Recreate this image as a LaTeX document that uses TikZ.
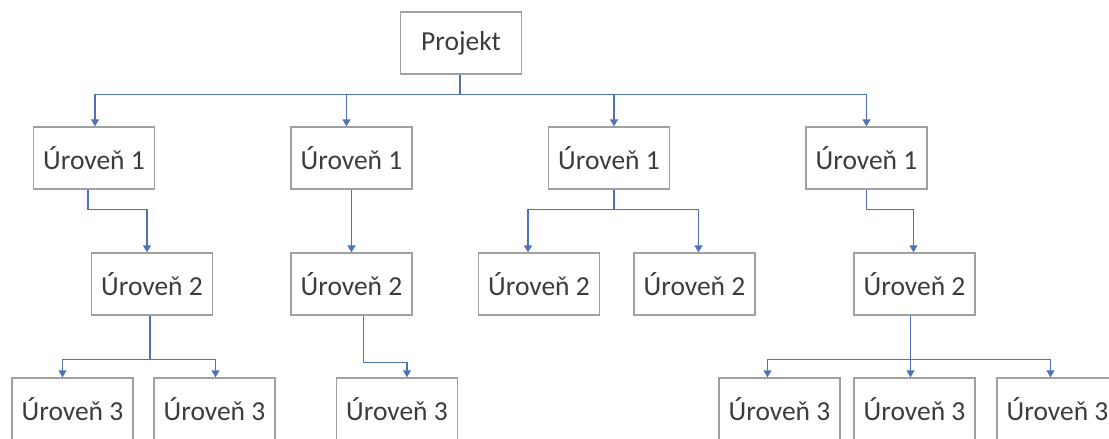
\documentclass[tikz,border=0pt]{standalone}
\usepackage{fontspec}
\setmainfont{Carlito}
\usetikzlibrary{arrows.meta}
\definecolor{boxgray}{HTML}{A0A0A0}
\definecolor{linkblue}{HTML}{4F72B4}
\definecolor{txtgray}{HTML}{3C3C3C}
\begin{document}
\begin{tikzpicture}[x=1pt, y=-1pt,
    box/.style={draw=boxgray,line width=1.3pt,minimum width=121pt,minimum height=62pt,inner sep=0pt,text=txtgray,font=\fontsize{27.5}{33}\selectfont},
    link/.style={draw=linkblue,line width=1.3pt,-{Triangle[width=8pt,length=7pt]}}]
          \clip (0,0) rectangle (1109,439);
          \node [box] (proj) at (461,43) {Projekt};
          \node [box] (l1a) at (94,158) {Úroveň 1};
          \node [box] (l1b) at (351.5,158) {Úroveň 1};
          \node [box] (l1c) at (609,158) {Úroveň 1};
          \node [box] (l1d) at (866.5,158) {Úroveň 1};
          \node [box] (l2a) at (152,284) {Úroveň 2};
          \node [box] (l2b) at (351.5,284) {Úroveň 2};
          \node [box] (l2c) at (539,284) {Úroveň 2};
          \node [box] (l2d) at (694.5,284) {Úroveň 2};
          \node [box] (l2e) at (914.5,284) {Úroveň 2};
          \node [box] (l3a) at (72.5,409) {Úroveň 3};
          \node [box] (l3b) at (214.5,409) {Úroveň 3};
          \node [box] (l3c) at (397,409) {Úroveň 3};
          \node [box] (l3d) at (779.5,409) {Úroveň 3};
          \node [box] (l3e) at (914.5,409) {Úroveň 3};
          \node [box] (l3f) at (1057.5,409) {Úroveň 3};
          \draw [link] ([xshift=-1pt]proj.south) -- ++(0,20) -| ([xshift=1pt]l1a.north);
          \draw [link] ([xshift=-1pt]proj.south) -- ++(0,20) -| ([xshift=-5pt]l1b.north);
          \draw [link] ([xshift=-1pt]proj.south) -- ++(0,20) -| ([xshift=5pt]l1c.north);
          \draw [link] ([xshift=-1pt]proj.south) -- ++(0,20) -| ([xshift=0pt]l1d.north);
          \draw [link] ([xshift=-6pt]l1a.south) -- ++(0,20) -| ([xshift=-5pt]l2a.north);
          \draw [link] (l1b.south) -- (l2b.north);
          \draw [link] ([xshift=5pt]l1c.south) -- ++(0,20) -| ([xshift=-11pt]l2c.north);
          \draw [link] ([xshift=5pt]l1c.south) -- ++(0,20) -| ([xshift=4pt]l2d.north);
          \draw [link] ([xshift=0pt]l1d.south) -- ++(0,20) -| ([xshift=-1pt]l2e.north);
          \draw [link] ([xshift=-2pt]l2a.south) -- ++(0,44) -| ([xshift=-10pt]l3a.north);
          \draw [link] ([xshift=-2pt]l2a.south) -- ++(0,44) -| ([xshift=1pt]l3b.north);
          \draw [link] ([xshift=12pt]l2b.south) -- ++(0,47) -| ([xshift=10pt]l3c.north);
          \draw [link] ([xshift=-4pt]l2e.south) -- ++(0,44) -| ([xshift=-12pt]l3d.north);
          \draw [link] ([xshift=-4pt]l2e.south) -- ++(0,44) -| ([xshift=-4pt]l3e.north);
          \draw [link] ([xshift=-4pt]l2e.south) -- ++(0,44) -| ([xshift=-7pt]l3f.north);
        \end{tikzpicture}
\end{document}
